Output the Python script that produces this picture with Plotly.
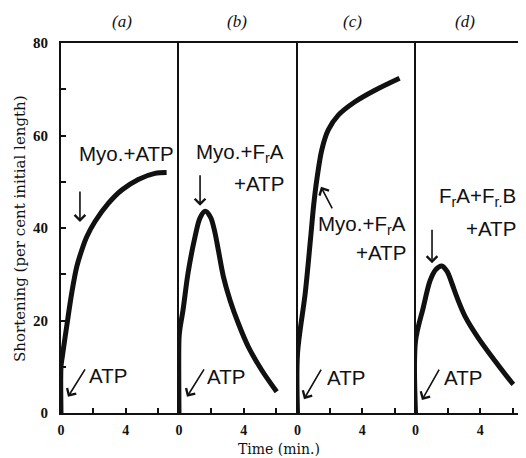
import plotly.graph_objects as go

# ---------------- data ----------------
panel_titles = ["(a)", "(b)", "(c)", "(d)"]

t_a = [0, 0, 0.08, 0.35, 0.66, 0.97, 1.28, 1.59, 2.1, 2.92, 3.75, 4.77, 5.8, 6.52]
v_a = [0, 10, 12.2, 18.7, 25.9, 31.6, 35.2, 38.1, 41.4, 45.3, 48.2, 50.5, 51.8, 52.0]

t_b = [0, 0, 0.05, 0.25, 0.56, 0.99, 1.3, 1.62, 1.95, 2.2, 2.43, 2.74, 3.15, 3.66, 4.28, 5.1, 6.03]
v_b = [0, 16, 18, 22.3, 30.3, 38.1, 42.2, 43.6, 42.3, 39.3, 35.2, 29.5, 24.4, 19.4, 14.3, 9.3, 4.6]

t_c = [0, 0, 0.48, 0.8, 1.0, 1.19, 1.5, 1.9, 2.52, 3.55, 4.78, 6.3]
v_c = [0, 12.8, 26.0, 37.5, 45.0, 50.4, 56.9, 61.2, 64.4, 67.3, 69.8, 72.4]

t_d = [0, 0, 0.48, 0.9, 1.25, 1.62, 1.95, 2.25, 2.54, 3.06, 3.88, 4.9, 5.94, 6.04]
v_d = [0, 15.5, 22.8, 28.6, 31.0, 31.8, 30.6, 28.0, 25.2, 20.9, 16.2, 11.3, 6.6, 6.2]

x_tickvals = [0, 2, 4, 6]
x_ticktext = ["0", "", "4", ""]
y_tickvals = [0, 10, 20, 30, 40, 50, 60, 70, 80]
y_ticktext = ["0", "", "20", "", "40", "", "60", "", "80"]

x_title = "Time (min.)"
y_title = "Shortening (per cent initial length)"

# ---------------- layout helpers ----------------
# the page body adds an 8px offset; shrink the figure so the plot area
# lands where it is in the reference window
OFF = 8
WIN_W, WIN_H = 526, 458
W, H = WIN_W - OFF, WIN_H - OFF
PL, PT, PB = 61, 43, 413          # plot area edges in window pixels
ML, MT, MB = PL - OFF, PT - OFF, WIN_H - PB
bounds_px = [61, 179, 297.5, 415.5, 526]
PX_PER_MIN = 16.2
plot_w = bounds_px[-1] - PL
plot_h = PB - PT

domains = [[(bounds_px[i] - PL) / plot_w, (bounds_px[i + 1] - PL) / plot_w] for i in range(4)]
ranges = [[0, (bounds_px[i + 1] - bounds_px[i]) / PX_PER_MIN] for i in range(4)]

SERIF = "Liberation Serif, Times New Roman, serif"
DSERIF = "DejaVu Serif, serif"
SANS = "Liberation Sans, Arial, sans-serif"
INK = "#111111"

fig = go.Figure()
series = [(t_a, v_a), (t_b, v_b), (t_c, v_c), (t_d, v_d)]
for i, (t, v) in enumerate(series):
    sfx = "" if i == 0 else str(i + 1)
    fig.add_trace(go.Scatter(
        x=t, y=v, mode="lines",
        line=dict(color=INK, width=5, shape="spline", smoothing=0.9),
        xaxis="x" + sfx, yaxis="y" + sfx, showlegend=False, hoverinfo="skip",
    ))

layout = dict(
    width=W, height=H,
    margin=dict(l=ML, r=0, t=MT, b=MB, autoexpand=False),
    paper_bgcolor="white", plot_bgcolor="white",
    showlegend=False,
)
for i in range(4):
    sfx = "" if i == 0 else str(i + 1)
    layout["xaxis" + sfx] = dict(
        domain=domains[i], range=ranges[i], anchor="y" + sfx,
        showline=True, linecolor=INK, linewidth=2, mirror=True,
        ticks="inside", ticklen=5, tickwidth=1.5, tickcolor=INK,
        tickvals=x_tickvals, ticktext=x_ticktext,
        tickfont=dict(family=SERIF, size=14, color=INK, weight="bold"),
        ticklabelstandoff=3,
        showgrid=False, zeroline=False, fixedrange=True, automargin=False,
    )
    ya = dict(
        domain=[0, 1], range=[0, 80], anchor="x" + sfx,
        showline=True, linecolor=INK, linewidth=2,
        showgrid=False, zeroline=False, fixedrange=True, automargin=False,
    )
    if i == 0:
        ya.update(
            ticks="inside", ticklen=5, tickwidth=1.5, tickcolor=INK,
            tickvals=y_tickvals, ticktext=y_ticktext,
            tickfont=dict(family=SERIF, size=15, color=INK, weight="bold"),
            ticklabelstandoff=8,
        )
    else:
        ya.update(ticks="", showticklabels=False, matches="y")
    layout["yaxis" + sfx] = ya
fig.update_layout(**layout)


def px_x(px):
    return (px - PL) / plot_w


def px_y(py):
    return (PB - py) / plot_h


annotations = []

# panel titles
title_px = [122, 237, 352, 465]
for txt, px in zip(panel_titles, title_px):
    annotations.append(dict(
        text=txt, xref="paper", yref="paper", x=px_x(px), y=px_y(22),
        xanchor="center", yanchor="middle", showarrow=False,
        font=dict(family=SERIF, size=17, color=INK, style="italic"),
    ))

# axis titles
annotations.append(dict(
    text=x_title, xref="paper", yref="paper", x=px_x(279), y=px_y(448.5),
    xanchor="center", yanchor="middle", showarrow=False,
    font=dict(family=DSERIF, size=14, color=INK),
))
annotations.append(dict(
    text=y_title, xref="paper", yref="paper", x=px_x(20), y=px_y(229),
    xanchor="center", yanchor="middle", showarrow=False, textangle=-90,
    font=dict(family=DSERIF, size=15, color=INK),
))

# in-panel labels: (panel, text, x, y, xanchor)
labels = [
    (0, "Myo.+ATP", 0.99, 56.2, "left"),
    (0, "ATP", 1.6, 8.2, "left"),
    (1, "Myo.+F<sub>r</sub>A", 6.6, 56.2, "right"),
    (1, "+ATP", 6.6, 49.7, "right"),
    (1, "ATP", 1.6, 7.8, "left"),
    (2, "Myo.+F<sub>r</sub>A", 6.82, 40.6, "right"),
    (2, "+ATP", 6.82, 34.6, "right"),
    (2, "ATP", 1.7, 7.6, "left"),
    (3, "F<sub>r</sub>A+F<sub>r.</sub>B", 6.3, 46.7, "right"),
    (3, "+ATP", 6.3, 40.0, "right"),
    (3, "ATP", 1.64, 7.6, "left"),
]
for p, txt, x, y, xa in labels:
    sfx = "" if p == 0 else str(p + 1)
    annotations.append(dict(
        text=txt, xref="x" + sfx, yref="y" + sfx, x=x, y=y,
        xanchor=xa, yanchor="middle", showarrow=False,
        font=dict(family=SANS, size=20.5, color=INK),
    ))

# arrows: (panel, head x, head y, tail dx px, tail dy px)
arrows = [
    (0, 1.17, 41.3, 0, -32),
    (0, 0.43, 3.5, 18, -29),
    (1, 1.3, 44.8, 0, -32),
    (1, 0.49, 3.5, 18, -29),
    (2, 1.45, 48.9, 12, 23),
    (2, 0.4, 3.0, 18, -31),
    (3, 1.02, 32.4, 0, -35),
    (3, 0.4, 2.8, 18, -32),
]
for p, x, y, ax, ay in arrows:
    sfx = "" if p == 0 else str(p + 1)
    annotations.append(dict(
        text="", xref="x" + sfx, yref="y" + sfx, x=x, y=y,
        ax=ax, ay=ay, showarrow=True, arrowhead=4, arrowsize=1.3,
        arrowwidth=1.6, arrowcolor=INK, standoff=0, startstandoff=0,
    ))

fig.update_layout(annotations=annotations)
fig.write_html("out.html")
